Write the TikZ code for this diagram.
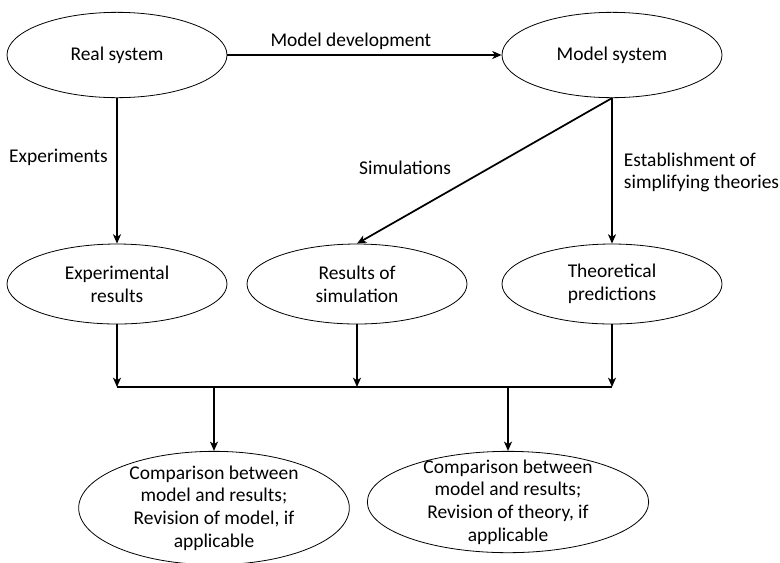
\documentclass[tikz,border=0pt]{standalone}
\usepackage{fontspec}
\setmainfont{Carlito}
\usetikzlibrary{shapes.geometric, arrows.meta}

\tikzset{
    bubble/.style = {draw, ellipse, line width = 0.6pt, inner sep = 0pt, align = center},
    flow/.style = {line width = 1.3pt, -{Stealth[length = 7pt, width = 6pt, inset = 2pt]}},
    bar/.style = {line width = 1.3pt}
}

\begin{document}
\begin{tikzpicture}[x = 0.75pt, y = -0.75pt, font = \fontsize{14.6}{17}\selectfont]
        \useasboundingbox (0,0) rectangle (780,562);
        
        \node[bubble, minimum width = 165pt, minimum height = 64pt] (real) at (117,55) {Real system};
        \node[bubble, minimum width = 165pt, minimum height = 64pt] (model) at (612,55) {Model system};
        
        \node[bubble, minimum width = 165pt, minimum height = 60pt] (expres) at (117,284) {Experimental\\results};
        \node[bubble, minimum width = 165pt, minimum height = 60pt] (simres) at (357,284) {Results of\\simulation};
        \node[bubble, minimum width = 165pt, minimum height = 60pt] (theory) at (612,284) {Theoretical\\predictions};
        
        \node[bubble, minimum width = 203pt, minimum height = 85pt,
            label = {[align = center]center:Comparison between\\model and results;\\Revision of model, if\\applicable}] (cmpA) at (214,508) {};
        \node[bubble, minimum width = 211pt, minimum height = 76pt,
            label = {[align = center]center:Comparison between\\model and results;\\Revision of theory, if\\applicable}] (cmpB) at (508,502) {};
        
        \coordinate (jL) at (117,387);
        \coordinate (jM) at (357,387);
        \coordinate (jR) at (612,387);
        \coordinate (jA) at (214,387);
        \coordinate (jB) at (508,387);
        
        \draw[flow] (real) -- node[pos = 0.45, above] (devlbl) {Model development} (model);
        \draw[flow] (real) -- node[pos = 0.41, left = 3pt] (explbl) {Experiments} (expres);
        \draw[flow] (model.south) -- node[pos = 0.48, left = 25pt] (simlbl) {Simulations} (simres.north);
        \draw[flow] (model) -- node[pos = 0.51, right = 5pt, align = left] (thelbl) {Establishment of\\simplifying theories} (theory);
        
        \draw[flow] (expres) -- (jL);
        \draw[flow] (simres) -- (jM);
        \draw[flow] (theory) -- (jR);
        \draw[bar] (jL) -- (jR);
        
        \draw[flow] (jA) -- (cmpA);
        \draw[flow] (jB) -- (cmpB);
    \end{tikzpicture}
\end{document}
